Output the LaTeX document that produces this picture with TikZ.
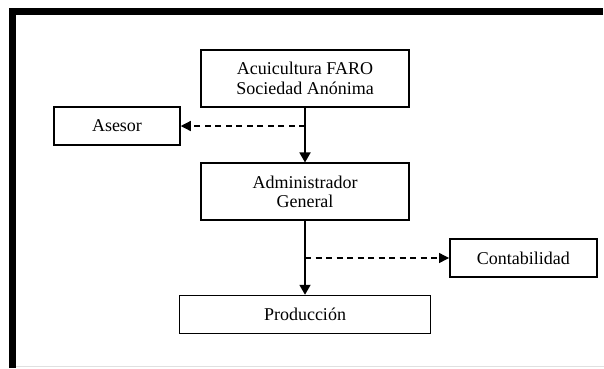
\documentclass[tikz,border=0pt]{standalone}
\usepackage{fontspec}
\setmainfont{Liberation Serif}
\usetikzlibrary{arrows.meta}

\begin{document}
\begin{tikzpicture}[x=1pt,y=-1pt,
  caja/.style={draw, line width=1.5pt, inner sep=0pt, align=center,
    font=\fontsize{18}{19.5}\selectfont},
  flecha/.style={line width=1.8pt, -{Triangle[length=10pt,width=11pt]}},
  enlace/.style={line width=1.2pt, dash pattern=on 6pt off 4.5pt,
    -{Triangle[length=10pt,width=10pt]}}]

\useasboundingbox (0,0) rectangle (604,368);

% frame
\draw[line width=7pt] (12.5,368) -- (12.5,11.5) -- (603,11.5);
\draw[black!12, line width=1.5pt] (16,366.5) -- (604,366.5);

% boxes
\node[caja, minimum width=208pt, minimum height=57pt] (faro) at (305,78.5)
  {Acuicultura FARO\\Sociedad Anónima};
\node[caja, minimum width=126pt, minimum height=38pt] (asesor) at (117,126)
  {Asesor};
\node[caja, minimum width=208pt, minimum height=57pt] (admin) at (305,191.7)
  {Administrador\\General};
\node[caja, minimum width=147pt, minimum height=38pt] (contab) at (523.3,258)
  {Contabilidad};
\node[caja, minimum width=251pt, minimum height=38pt] (prod) at (305,314.5)
  {Producción};

% arrows
\draw[flecha] (faro.south) -- (admin.north);
\draw[flecha] (admin.south) -- (prod.north);

\coordinate (ramaA) at (faro.south |- asesor.east);
\coordinate (ramaC) at (admin.south |- contab.west);
\draw[enlace] (ramaA) -- (asesor.east);
\draw[enlace] (ramaC) -- (contab.west);

\end{tikzpicture}
\end{document}
